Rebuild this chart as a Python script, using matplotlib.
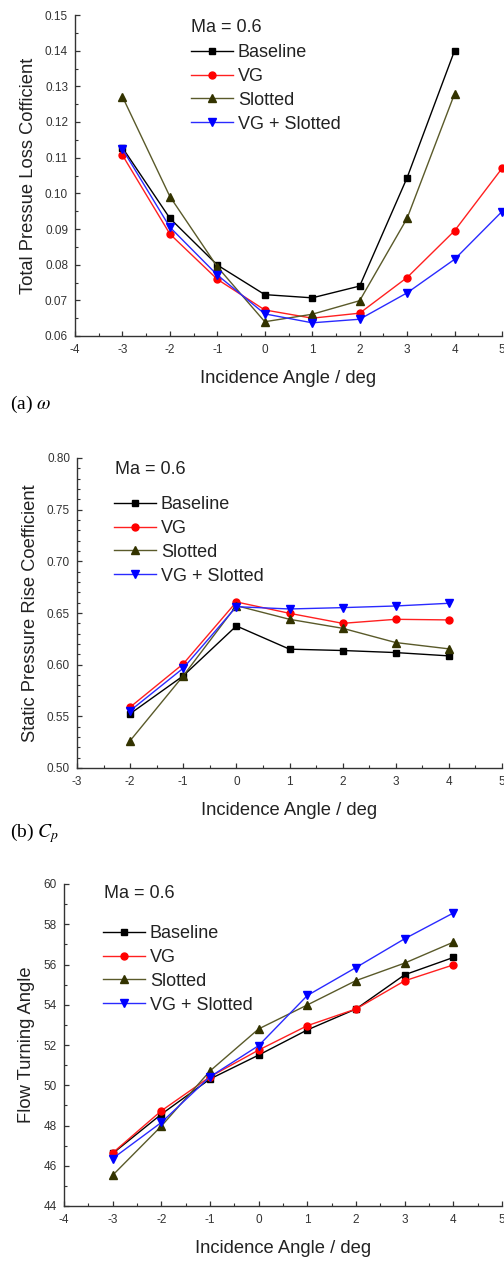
import matplotlib
matplotlib.use("Agg")
import matplotlib.pyplot as plt
from matplotlib.ticker import MultipleLocator

plt.rcParams['font.family'] = ['Liberation Sans', 'DejaVu Sans']
plt.rcParams['mathtext.fontset'] = 'stix'

# 数据
series_names = ["Baseline", "VG", "Slotted", "VG + Slotted"]

# (a) 总压损失系数
omega_x_short = [-3, -2, -1, 0, 1, 2, 3, 4]
omega_x_long = [-3, -2, -1, 0, 1, 2, 3, 4, 5]
omega_baseline = [0.1128, 0.0930, 0.0799, 0.0716, 0.0707, 0.0740, 0.1044, 0.1400]
omega_vg = [0.1107, 0.0886, 0.0759, 0.0673, 0.0650, 0.0664, 0.0764, 0.0895, 0.1070]
omega_slotted = [0.1271, 0.0991, 0.0794, 0.0640, 0.0661, 0.0699, 0.0930, 0.1279]
omega_vg_slotted = [0.1124, 0.0905, 0.0771, 0.0662, 0.0637, 0.0647, 0.0721, 0.0815, 0.0949]

# (b) 静压升系数
cp_x = [-2, -1, 0, 1, 2, 3, 4]
cp_baseline = [0.5525, 0.5892, 0.6375, 0.6150, 0.6137, 0.6117, 0.6085]
cp_vg = [0.5589, 0.6008, 0.6607, 0.6497, 0.6400, 0.6439, 0.6433]
cp_slotted = [0.5264, 0.5892, 0.6571, 0.6439, 0.6352, 0.6214, 0.6153]
cp_vg_slotted = [0.5554, 0.5966, 0.6561, 0.6539, 0.6552, 0.6568, 0.6594]

# (c) 气流转折角
turn_x = [-3, -2, -1, 0, 1, 2, 3, 4]
turn_baseline = [46.61, 48.56, 50.31, 51.50, 52.75, 53.79, 55.49, 56.35]
turn_vg = [46.64, 48.73, 50.42, 51.75, 52.96, 53.79, 55.19, 55.98]
turn_slotted = [45.53, 47.97, 50.71, 52.80, 53.99, 55.20, 56.07, 57.11]
turn_vg_slotted = [46.36, 48.15, 50.42, 51.97, 54.46, 55.85, 57.28, 58.56]

STYLES = [
    dict(color='black', marker='s', mfc='black', mec='black', ms=4.5),
    dict(color='#ff2020', marker='o', mfc='#ff0000', mec='#ff0000', ms=5),
    dict(color='#5a5a2a', marker='^', mfc='#333300', mec='#333300', ms=5.5),
    dict(color='#2a2aff', marker='v', mfc='#0000ff', mec='#0000ff', ms=5.5),
]

FS = 13.2
W, H = 504, 1264
fig = plt.figure(figsize=(W / 100, H / 100), dpi=100)


def px_axes(left, top, right, bottom):
    return fig.add_axes([left / W, 1 - bottom / H, (right - left) / W, (bottom - top) / H])


def style_axes(ax, xlim, ylim, ymajor, yminor, yfmt, ylabel):
    ax.set_xlim(*xlim)
    ax.set_ylim(*ylim)
    ax.xaxis.set_major_locator(MultipleLocator(1))
    ax.xaxis.set_minor_locator(MultipleLocator(0.5))
    ax.yaxis.set_major_locator(MultipleLocator(ymajor))
    ax.yaxis.set_minor_locator(MultipleLocator(yminor))
    ax.yaxis.set_major_formatter(plt.FormatStrFormatter(yfmt))
    ax.xaxis.set_major_formatter(plt.FormatStrFormatter('%d'))
    for s in ['top', 'right']:
        ax.spines[s].set_visible(False)
    for s in ['left', 'bottom']:
        ax.spines[s].set_linewidth(1.0)
        ax.spines[s].set_color('#333333')
    ax.tick_params(which='major', direction='in', length=3.5, width=0.9,
                   labelsize=8.5, colors='#333333', pad=5)
    ax.tick_params(which='minor', direction='in', length=2, width=0.8, colors='#333333')
    ax.tick_params(axis='x', which='major', pad=6)
    ax.set_xlabel("Incidence Angle / deg", fontsize=FS, color='#222222', labelpad=9.5)
    ax.set_ylabel(ylabel, fontsize=FS, color='#222222', labelpad=6)


def add_legend(ax, handles, ma_x, ma_y, leg_x, leg_y):
    fig.text(ma_x / W, 1 - ma_y / H, "Ma = 0.6", fontsize=13, va='center', ha='left',
             color='#222222')
    ax.legend(handles=handles, labels=series_names, loc='upper left',
              bbox_to_anchor=(leg_x / W, 1 - leg_y / H), bbox_transform=fig.transFigure,
              frameon=False, fontsize=13, handlelength=2.3, handletextpad=0.3,
              labelspacing=0.38, borderpad=0, borderaxespad=0, labelcolor='#222222')


# (a)
ax1 = px_axes(75, 15, 502, 336)
h = []
for xs, ys, st in zip([omega_x_short, omega_x_long, omega_x_short, omega_x_long],
                      [omega_baseline, omega_vg, omega_slotted, omega_vg_slotted], STYLES):
    line, = ax1.plot(xs, ys, lw=1.0, clip_on=False, **st)
    h.append(line)
style_axes(ax1, (-4, 5), (0.06, 0.15), 0.01, 0.005, '%.2f', "Total Pressue Loss Cofficient")
add_legend(ax1, h, 191, 28, 191, 44)
fig.text(10 / W, 1 - 404 / H, r"(a) $\omega$", fontsize=14, va='center', ha='left',
         family=['Liberation Serif', 'DejaVu Serif'])

# (b)
ax2 = px_axes(77, 458, 502, 768)
h = []
for ys, st in zip([cp_baseline, cp_vg, cp_slotted, cp_vg_slotted], STYLES):
    line, = ax2.plot(cp_x, ys, lw=1.0, clip_on=False, **st)
    h.append(line)
style_axes(ax2, (-3, 5), (0.50, 0.80), 0.05, 0.01, '%.2f', "Static Pressure Rise Coefficient")
add_legend(ax2, h, 115, 469, 114, 496)
fig.text(10 / W, 1 - 833 / H, r"(b) $C_p$", fontsize=14, va='center', ha='left',
         family=['Liberation Serif', 'DejaVu Serif'])

# (c)
ax3 = px_axes(64, 884, 502, 1206)
h = []
for ys, st in zip([turn_baseline, turn_vg, turn_slotted, turn_vg_slotted], STYLES):
    line, = ax3.plot(turn_x, ys, lw=1.0, clip_on=False, **st)
    h.append(line)
style_axes(ax3, (-4, 5), (44, 60), 2, 1, '%d', "Flow Turning Angle")
add_legend(ax3, h, 104, 893, 103, 925)

fig.savefig("out.png", dpi=100)
